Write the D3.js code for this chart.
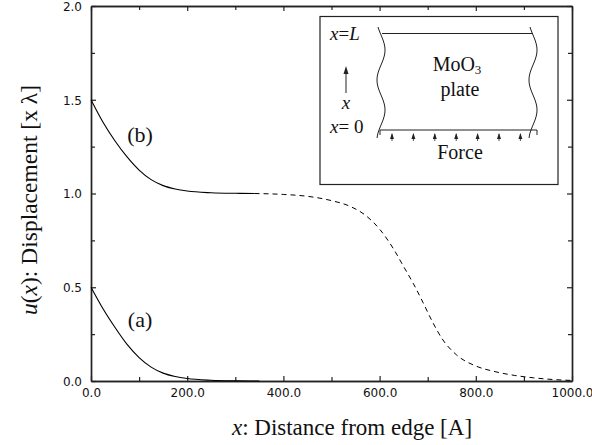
<!DOCTYPE html>
<html>
<head>
<meta charset="utf-8">
<script src="https://cdn.jsdelivr.net/npm/d3@7"></script>
<style>
    body { margin: 0; background: #fff; }
    .tick text { font-family: "DejaVu Sans", sans-serif; font-size: 12px; fill: #111; }
    .serif { font-family: "Liberation Serif", "Times New Roman", serif; fill: #111; }
</style>
</head>
<body>
<div id="graph"></div>
<script>
// TICKS
var xMajor = [0, 200, 400, 600, 800, 1000];
var xMinor = [100, 300, 500, 700, 900];
var yMajor = [0.0, 0.5, 1.0, 1.5, 2.0];
var yMinor = [0.25, 0.75, 1.25, 1.75];

// CURVE (a)
var xA = [0, 25, 50, 75, 100, 125, 150, 175, 200, 250, 300, 350];
var uA = [0.5, 0.385, 0.285, 0.195, 0.125, 0.074, 0.042, 0.024, 0.013, 0.004, 0.001, 0.0];

// CURVE (b), solid part
var xB = [0, 25, 50, 75, 100, 125, 150, 175, 200, 250, 300, 340];
var uB = [1.5, 1.38, 1.28, 1.195, 1.125, 1.074, 1.042, 1.024, 1.013, 1.004, 1.001, 1.0];

// CURVE (b), dashed part
var xBd = [340, 400, 450, 500, 540, 570, 600, 630, 650, 670, 690, 710, 730, 760, 800, 840, 880, 920, 960, 1000];
var uBd = [1.0, 0.995, 0.985, 0.962, 0.93, 0.885, 0.81, 0.70, 0.61, 0.52, 0.42, 0.315, 0.225, 0.139, 0.08, 0.05, 0.03, 0.017, 0.008, 0.003];

var svgWidth = 592, svgHeight = 445;
var margins = { top: 6, bottom: 64, left: 91, right: 20 };
var width = svgWidth - margins.left - margins.right;
var height = svgHeight - margins.top - margins.bottom;

var svg = d3.select("#graph")
    .append("svg")
    .attr("width", svgWidth)
    .attr("height", svgHeight);

var g = svg.append("g")
    .attr("transform", "translate(" + margins.left + "," + margins.top + ")");

var xScale = d3.scaleLinear().domain([0, 1000]).range([0, width]);
var yScale = d3.scaleLinear().domain([0, 2]).range([height, 0]);

// Axes, ticks pointing inwards on all four sides
function addAxis(axis, tr, vals, size, labels) {
    var a = axis.tickValues(vals).tickSizeInner(-size).tickSizeOuter(0).tickPadding(size + 4);
    a.tickFormat(labels ? d3.format(".1f") : "");
    var sel = g.append("g").attr("transform", tr).call(a);
    sel.selectAll("line").attr("stroke", "#222").attr("stroke-width", 1.2);
    sel.select(".domain").attr("stroke", "#222").attr("stroke-width", 1.4);
    return sel;
}
var bottom = "translate(0," + height + ")";
var right = "translate(" + width + ",0)";
var xb = addAxis(d3.axisBottom(xScale), bottom, xMajor, 5, true);
addAxis(d3.axisBottom(xScale), bottom, xMinor, 4, false);
addAxis(d3.axisTop(xScale), "", xMajor, 5, false);
addAxis(d3.axisTop(xScale), "", xMinor, 4, false);
var yl = addAxis(d3.axisLeft(yScale), "", yMajor, 5, true);
addAxis(d3.axisLeft(yScale), "", yMinor, 4, false);
addAxis(d3.axisRight(yScale), right, yMajor, 5, false);
addAxis(d3.axisRight(yScale), right, yMinor, 4, false);

xb.selectAll(".tick text").attr("y", 7).attr("dy", "0.71em");
yl.selectAll(".tick text").attr("x", -9).attr("dy", "0.36em");

// Curves
var toPts = function(xs, us) {
    return xs.map(function(x, i) { return { x: x, u: us[i] }; });
};
var line = d3.line()
    .x(d => xScale(d.x))
    .y(d => yScale(d.u))
    .curve(d3.curveMonotoneX);

g.append("path")
    .datum(toPts(xA, uA))
    .attr("fill", "none").attr("stroke", "#000").attr("stroke-width", 1.1)
    .attr("d", line);
g.append("path")
    .datum(toPts(xB, uB))
    .attr("fill", "none").attr("stroke", "#000").attr("stroke-width", 1.1)
    .attr("d", line);
g.append("path")
    .datum(toPts(xBd, uBd))
    .attr("fill", "none").attr("stroke", "#000").attr("stroke-width", 1)
    .attr("stroke-dasharray", "5,4")
    .attr("d", line);

// Curve labels
g.append("text").attr("class", "serif").attr("font-size", 22)
    .attr("x", xScale(102)).attr("y", yScale(1.275)).attr("text-anchor", "middle")
    .text("(b)");
g.append("text").attr("class", "serif").attr("font-size", 22)
    .attr("x", xScale(102)).attr("y", yScale(0.29)).attr("text-anchor", "middle")
    .text("(a)");

// Axis titles
var xt = svg.append("text").attr("class", "serif").attr("font-size", 23)
    .attr("x", 352).attr("y", 435).attr("text-anchor", "middle");
xt.append("tspan").attr("font-style", "italic").text("x");
xt.append("tspan").text(": Distance from edge [A]");

var yt = svg.append("text").attr("class", "serif").attr("font-size", 23.5)
    .attr("transform", "translate(37,200) rotate(-90)").attr("text-anchor", "middle");
yt.append("tspan").attr("font-style", "italic").text("u");
yt.append("tspan").text("(");
yt.append("tspan").attr("font-style", "italic").text("x");
yt.append("tspan").text("): Displacement [x \u03bb]");

// Inset: the plate sketch
var inset = svg.append("g");
inset.append("rect")
    .attr("x", 320).attr("y", 16.5).attr("width", 238).attr("height", 168)
    .attr("fill", "#fff").attr("stroke", "#222").attr("stroke-width", 1.2);

// wavy sides of the plate
var waveY = d3.range(27, 139, 1);
var wave = function(cx) {
    return d3.line()
        .x(y => cx + 4 * Math.sin(2 * Math.PI * (y - 35) / 60))
        .y(y => y)(waveY);
};
inset.append("path").attr("d", wave(381)).attr("fill", "none").attr("stroke", "#222").attr("stroke-width", 1);
inset.append("path").attr("d", wave(533)).attr("fill", "none").attr("stroke", "#222").attr("stroke-width", 1);

inset.append("line").attr("x1", 382).attr("x2", 533).attr("y1", 33.5).attr("y2", 33.5)
    .attr("stroke", "#222").attr("stroke-width", 1.2);
inset.append("line").attr("x1", 380).attr("x2", 537).attr("y1", 130).attr("y2", 130)
    .attr("stroke", "#222").attr("stroke-width", 1.2);
inset.append("line").attr("x1", 380).attr("x2", 380).attr("y1", 130).attr("y2", 135)
    .attr("stroke", "#222").attr("stroke-width", 1);
inset.append("line").attr("x1", 537).attr("x2", 537).attr("y1", 130).attr("y2", 135)
    .attr("stroke", "#222").attr("stroke-width", 1);

// force arrows
d3.range(7).forEach(function(i) {
    var ax = 392 + i * 21.4;
    inset.append("line").attr("x1", ax).attr("x2", ax).attr("y1", 141).attr("y2", 134)
        .attr("stroke", "#222").attr("stroke-width", 0.8);
    inset.append("path")
        .attr("d", "M" + (ax - 2) + ",139 L" + ax + ",133 L" + (ax + 2) + ",139 Z")
        .attr("fill", "#222");
});

// x arrow
inset.append("line").attr("x1", 346).attr("x2", 346).attr("y1", 93).attr("y2", 69)
    .attr("stroke", "#222").attr("stroke-width", 1);
inset.append("path").attr("d", "M343.5,74 L346,66 L348.5,74 Z").attr("fill", "#222");

var tL = inset.append("text").attr("class", "serif").attr("font-size", 19).attr("x", 330).attr("y", 40);
tL.append("tspan").attr("font-style", "italic").text("x");
tL.append("tspan").text("=");
tL.append("tspan").attr("font-style", "italic").text("L");

inset.append("text").attr("class", "serif").attr("font-size", 19).attr("font-style", "italic")
    .attr("x", 346).attr("y", 109).attr("text-anchor", "middle").text("x");

var t0 = inset.append("text").attr("class", "serif").attr("font-size", 19).attr("x", 330).attr("y", 133);
t0.append("tspan").attr("font-style", "italic").text("x");
t0.append("tspan").text("= 0");

var tM = inset.append("text").attr("class", "serif").attr("font-size", 20)
    .attr("x", 457).attr("y", 71).attr("text-anchor", "middle");
tM.append("tspan").text("MoO");
tM.append("tspan").attr("font-size", 13).attr("dy", 3).text("3");

inset.append("text").attr("class", "serif").attr("font-size", 20)
    .attr("x", 460).attr("y", 96).attr("text-anchor", "middle").text("plate");
inset.append("text").attr("class", "serif").attr("font-size", 20)
    .attr("x", 460).attr("y", 159).attr("text-anchor", "middle").text("Force");
</script>
</body>
</html>
